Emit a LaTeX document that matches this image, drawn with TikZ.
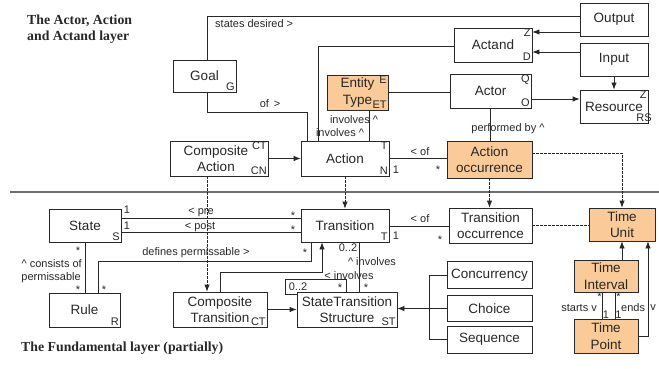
\documentclass[tikz,border=0pt]{standalone}
\usepackage{fontspec}
\setmainfont{Liberation Sans}
\newfontfamily\titlefont{Liberation Serif}
\usetikzlibrary{arrows.meta,calc}
\definecolor{boxorange}{RGB}{250,202,152}
\definecolor{ink}{RGB}{40,40,40}
\definecolor{sepgrey}{RGB}{110,110,110}
\begin{document}
\begin{tikzpicture}[x=1pt,y=-1pt,
  box/.style={draw=ink, line width=0.8pt, inner sep=0pt, align=center, text=ink,
    font=\fontsize{13.5}{16.5}\selectfont},
  cornerlbl/.style={font=\fontsize{11}{12}\selectfont, text=ink, inner sep=1.5pt},
  ne/.style={label={[cornerlbl, anchor=north east]north east:#1}},
  se/.style={label={[cornerlbl, anchor=south east]south east:#1}},
  lbl/.style={font=\fontsize{11}{12}\selectfont, text=ink, inner sep=0pt},
  title/.style={font=\titlefont\bfseries\fontsize{13.8}{16}\selectfont, text=ink, inner sep=0pt, align=left},
  conn/.style={draw=ink, line width=0.8pt},
  arr/.style={conn, -{Latex[length=7pt,width=5.5pt]}},
  dsh/.style={dash pattern=on 2.5pt off 1.5pt}
]
\useasboundingbox (0,0) rectangle (659,369);

% titles
\node[title, anchor=west] (t1) at (27,29) {The Actor, Action\\and Actand layer};
\node[title, anchor=west] (t2) at (21,348) {The Fundamental layer (partially)};

% separator
\draw[sepgrey, line width=1.5pt] (10,192) -- (659,192);

% boxes
\node[box, minimum width=63, minimum height=32, se=G] (goal) at (204.5,76) {Goal};
\node[box, minimum width=68, minimum height=33] (output) at (614,19.5) {Output};
\node[box, minimum width=78, minimum height=34, ne=Z, se=D] (actand) at (493,45) {Actand};
\node[box, minimum width=68, minimum height=33] (input) at (614,59.5) {Input};
\node[box, fill=boxorange, minimum width=61, minimum height=35, ne=E, se=ET] (etype) at (357.5,92.5) {Entity\\Type};
\node[box, minimum width=81, minimum height=34, ne=Q, se=O] (actor) at (490.5,91) {Actor};
\node[box, minimum width=68, minimum height=33, ne=Z,
  label={[cornerlbl, anchor=south east, xshift=5pt]south east:RS}] (resource) at (614,106.5) {Resource};
\node[box, minimum width=98, minimum height=35, ne=CT, se=CN] (compaction) at (219,158.5) {Composite\hspace*{6pt}\\Action\hspace*{6pt}};
\node[box, minimum width=88, minimum height=35, ne=T, se=N] (action) at (345,158.5) {Action};
\node[box, fill=boxorange, minimum width=85, minimum height=37] (actocc) at (489.5,159.5) {Action\\occurrence};
\node[box, minimum width=72, minimum height=33, se=S] (state) at (85,225.5) {State};
\node[box, minimum width=88, minimum height=33, se=T] (transition) at (345,225.5) {Transition};
\node[box, minimum width=83, minimum height=35] (transocc) at (490.5,225.5) {Transition\\occurrence};
\node[box, fill=boxorange, minimum width=66, minimum height=33] (timeunit) at (622,224.5) {Time\\Unit};
\node[box, minimum width=71, minimum height=34, se=R] (rule) at (84.5,310) {Rule};
\node[box, minimum width=94, minimum height=35, se=CT] (comptrans) at (220,309.5) {Composite\\Transition};
\node[box, minimum width=100, minimum height=35, se=ST] (sts) at (347,309.5) {StateTransition\\Structure};
\node[box, minimum width=85, minimum height=27] (concurrency) at (489.5,275) {Concurrency};
\node[box, minimum width=85, minimum height=26] (choice) at (489.5,308.5) {Choice};
\node[box, minimum width=85, minimum height=27] (sequence) at (489.5,339.5) {Sequence};
\node[box, fill=boxorange, minimum width=64, minimum height=32] (tinterval) at (606,276) {Time\\Interval};
\node[box, fill=boxorange, minimum width=64, minimum height=34] (tpoint) at (606,336) {Time\\Point};

% upper layer connectors
\draw[conn] ([xshift=2.5pt]goal.north) |- (output.west |- 0,16);
\node[lbl, anchor=west] (l1) at (215,24) {states desired >};
\draw[arr] (output.west |- 0,32) -- (actand.east |- 0,32);
\draw[arr] (input.west |- 0,52) -- (actand.east |- 0,52);
\draw[arr] (input.south) -- (resource.north);
\draw[arr] (actor.east |- 0,99) -- (resource.west |- 0,99);
\draw[conn] (actand.west |- 0,46) -| (action.north -| 318,0);
\draw[conn] ([xshift=2.5pt]goal.south) -- ++(0,20) -| (action.north -| 307,0);
\node[lbl] (l2) at (270,104) {of\, >};
\draw[conn] (etype.south -| 369,0) -- (action.north -| 369,0);
\draw[conn] (etype.east) -- (actor.west |- etype.east);
\node[lbl] (l3) at (354,120) {involves \textasciicircum};
\node[lbl] (l4) at (340,133) {involves \textasciicircum};
\draw[conn] (actor.south) -- (actocc.north -| actor.south);
\node[lbl] (l5) at (508,129) {performed by \textasciicircum};
\draw[arr] (compaction.east) -- (action.west);
\draw[conn] (action.east) -- (actocc.west |- action.east);
\node[lbl] (l6) at (420,152) {< of};
\node[lbl] (l7) at (396,170) {1};
\node[lbl] (l8) at (438,170) {*};
\draw[arr, dsh] (actocc.east |- 0,153) -| (timeunit.north);
\draw[arr, dsh] (actocc.south) -- (transocc.north -| actocc.south);
\draw[arr, dsh] (action.south) -- (transition.north);
\draw[arr, dsh] (compaction.south -| 207,0) -- (comptrans.north -| 207,0);

% fundamental layer connectors
\draw[conn] (state.east |- 0,218) -- (transition.west |- 0,218);
\draw[conn] (state.east |- 0,232) -- (transition.west |- 0,232);
\node[lbl] (l9) at (127,210) {1};
\node[lbl] (l10) at (127,226) {1};
\node[lbl] (l11) at (201,212) {< pre};
\node[lbl] (l12) at (200,227) {< post};
\node[lbl] (l13) at (293,216) {*};
\node[lbl] (l14) at (293,230) {*};
\draw[conn] (transition.east |- 0,226) -- (transocc.west |- 0,226);
\node[lbl] (l15) at (420,219) {< of};
\node[lbl] (l16) at (396,236) {1};
\node[lbl] (l17) at (440,240) {*};
\draw[conn, dsh] (transocc.east |- 0,225) -- (timeunit.west |- 0,225);

\draw[conn] (state.south) -- (rule.north -| state.south);
\node[lbl] (l18) at (78,251) {*};
\node[lbl, anchor=east] (l19) at (82,264) {\textasciicircum\ consists of};
\node[lbl, anchor=east] (l20) at (81,278) {permissable};
\node[lbl] (l21) at (78,290) {*};
\draw[conn] (transition.south -| 311,0) -- ++(0,19) -| (rule.north -| 98,0);
\node[lbl] (l22) at (196,253) {defines permissable >};
\node[lbl] (l23) at (305,253) {*};
\node[lbl] (l24) at (104,290) {*};

\draw[arr] (comptrans.north) -- ++(0,-19) -| (transition.south -| 322,0);
\node[lbl] (l25) at (349,276) {< involves};
\draw[arr] (comptrans.east) -- (sts.west);
\draw[conn] (sts.north -| 346,0) -- ++(0,-12) -- ++(-61,0) |- ([yshift=-3pt]sts.north west);
\node[lbl] (l26) at (298,287) {0..2};
\node[lbl] (l27) at (340,288) {*};
\draw[conn] (transition.south -| 359,0) -- (sts.north -| 359,0);
\node[lbl] (l28) at (348,248) {0..2};
\node[lbl] (l29) at (372,262) {\textasciicircum\ involves};
\node[lbl] (l30) at (366,288) {*};

\draw[arr] (choice.west) -- (sts.east |- choice.west);
\draw[conn] (concurrency.west) -- ++(-17,0) |- (sequence.west);

\draw[arr] (tinterval.north -| timeunit.south) -- (timeunit.south);
\draw[arr] (tpoint.east) -| (timeunit.south -| 648,0);
\draw[conn] (tinterval.south -| 602,0) -- (tpoint.north -| 602,0);
\draw[conn] (tinterval.south -| 615,0) -- (tpoint.north -| 615,0);
\node[lbl, anchor=east] (l31) at (597,308) {starts v};
\node[lbl] (l32) at (599.5,297) {*};
\node[lbl] (l33) at (606,315) {1};
\node[lbl] (l34) at (618.5,297) {*};
\node[lbl] (l35) at (618.5,315) {1};
\node[lbl, anchor=west] (l36) at (621,308) {ends};
\node[lbl] (l37) at (653,308) {v};
\end{tikzpicture}
\end{document}
